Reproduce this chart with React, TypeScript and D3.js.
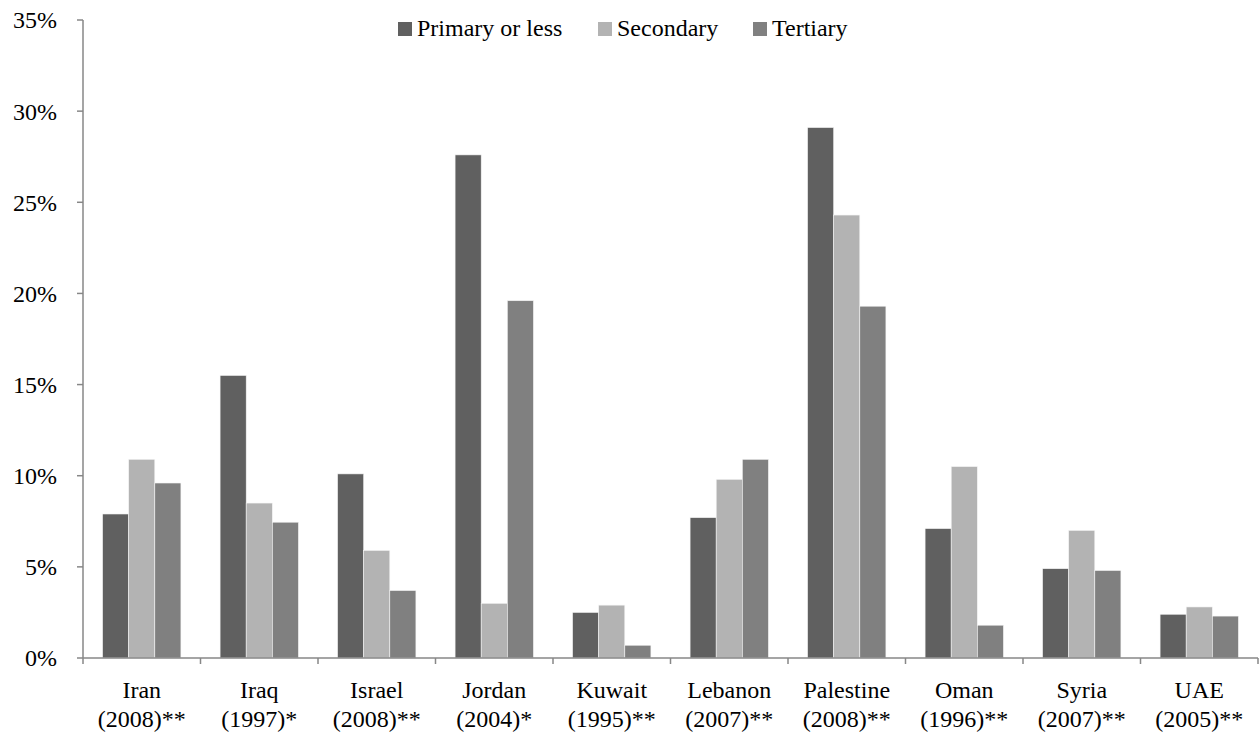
import React from "react";
import * as d3 from "d3";

const countries = ["Iran", "Iraq", "Israel", "Jordan", "Kuwait", "Lebanon", "Palestine", "Oman", "Syria", "UAE"];
const years = ["(2008)**", "(1997)*", "(2008)**", "(2004)*", "(1995)**", "(2007)**", "(2008)**", "(1996)**", "(2007)**", "(2005)**"];
const seriesNames = ["Primary or less", "Secondary", "Tertiary"];
const primary = [7.9, 15.5, 10.1, 27.6, 2.5, 7.7, 29.1, 7.1, 4.9, 2.4];
const secondary = [10.9, 8.5, 5.9, 3.0, 2.9, 9.8, 24.3, 10.5, 7.0, 2.8];
const tertiary = [9.6, 7.45, 3.7, 19.6, 0.7, 10.9, 19.3, 1.8, 4.8, 2.3];
const yTicks = [0, 5, 10, 15, 20, 25, 30, 35];
const colors = ["#606060", "#b3b3b3", "#808080"];

const W = 1259, H = 734;
const left = 83, right = 1258, top = 20, bottom = 658;
const font = '"Liberation Serif", Tinos, "Noto Serif", "DejaVu Serif", FreeSerif, "Nimbus Roman", "Times New Roman", Times, serif';
const ts: React.CSSProperties = { fontFamily: font, fontSize: "24px" };

export default function App() {
  const series = [primary, secondary, tertiary];
  const x = d3.scaleBand<string>().domain(countries).range([left, right]).paddingInner(0).paddingOuter(0);
  const inner = d3.scaleBand<number>().domain([0, 1, 2]).range([0, x.bandwidth()]).paddingOuter(0.75).paddingInner(0);
  const y = d3.scaleLinear().domain([0, 35]).range([bottom, top]);
  const legendX = [398, 598, 753];

  return (
    <svg width={W} height={H} style={{ position: "absolute", left: 0, top: 0, background: "#fff", fontFamily: font }}>
      {series.map((vals, si) =>
        vals.map((v, i) => (
          <rect key={`${si}-${i}`} x={(x(countries[i]) as number) + (inner(si) as number)} y={y(v)}
            width={inner.bandwidth()} height={y(0) - y(v)} fill={colors[si]} stroke="#f4f4f4" strokeWidth={0.6} />
        ))
      )}
      <line x1={left} x2={left} y1={top} y2={bottom} stroke="#878787" strokeWidth={1.5} />
      <line x1={left} x2={right} y1={bottom} y2={bottom} stroke="#878787" strokeWidth={1.5} />
      {yTicks.map(t => (
        <g key={t}>
          <line x1={left - 6} x2={left} y1={y(t)} y2={y(t)} stroke="#878787" strokeWidth={1.5} />
          <text x={57} y={y(t)} dy="0.35em" textAnchor="end" style={ts} fill="#000">{t}%</text>
        </g>
      ))}
      {[...countries.map(c => x(c) as number), right].map((xx, i) => (
        <line key={i} x1={xx} x2={xx} y1={bottom} y2={bottom + 6} stroke="#878787" strokeWidth={1.5} />
      ))}
      {countries.map((c, i) => {
        const cx = (x(c) as number) + x.bandwidth() / 2;
        return (
          <text key={c} x={cx} textAnchor="middle" style={ts} fill="#000">
            <tspan x={cx} y={698}>{c}</tspan>
            <tspan x={cx} y={727}>{years[i]}</tspan>
          </text>
        );
      })}
      {seriesNames.map((n, i) => (
        <g key={n}>
          <rect x={legendX[i]} y={22} width={14} height={14} fill={colors[i]} />
          <text x={legendX[i] + 19} y={36} style={ts} fill="#000">{n}</text>
        </g>
      ))}
    </svg>
  );
}
